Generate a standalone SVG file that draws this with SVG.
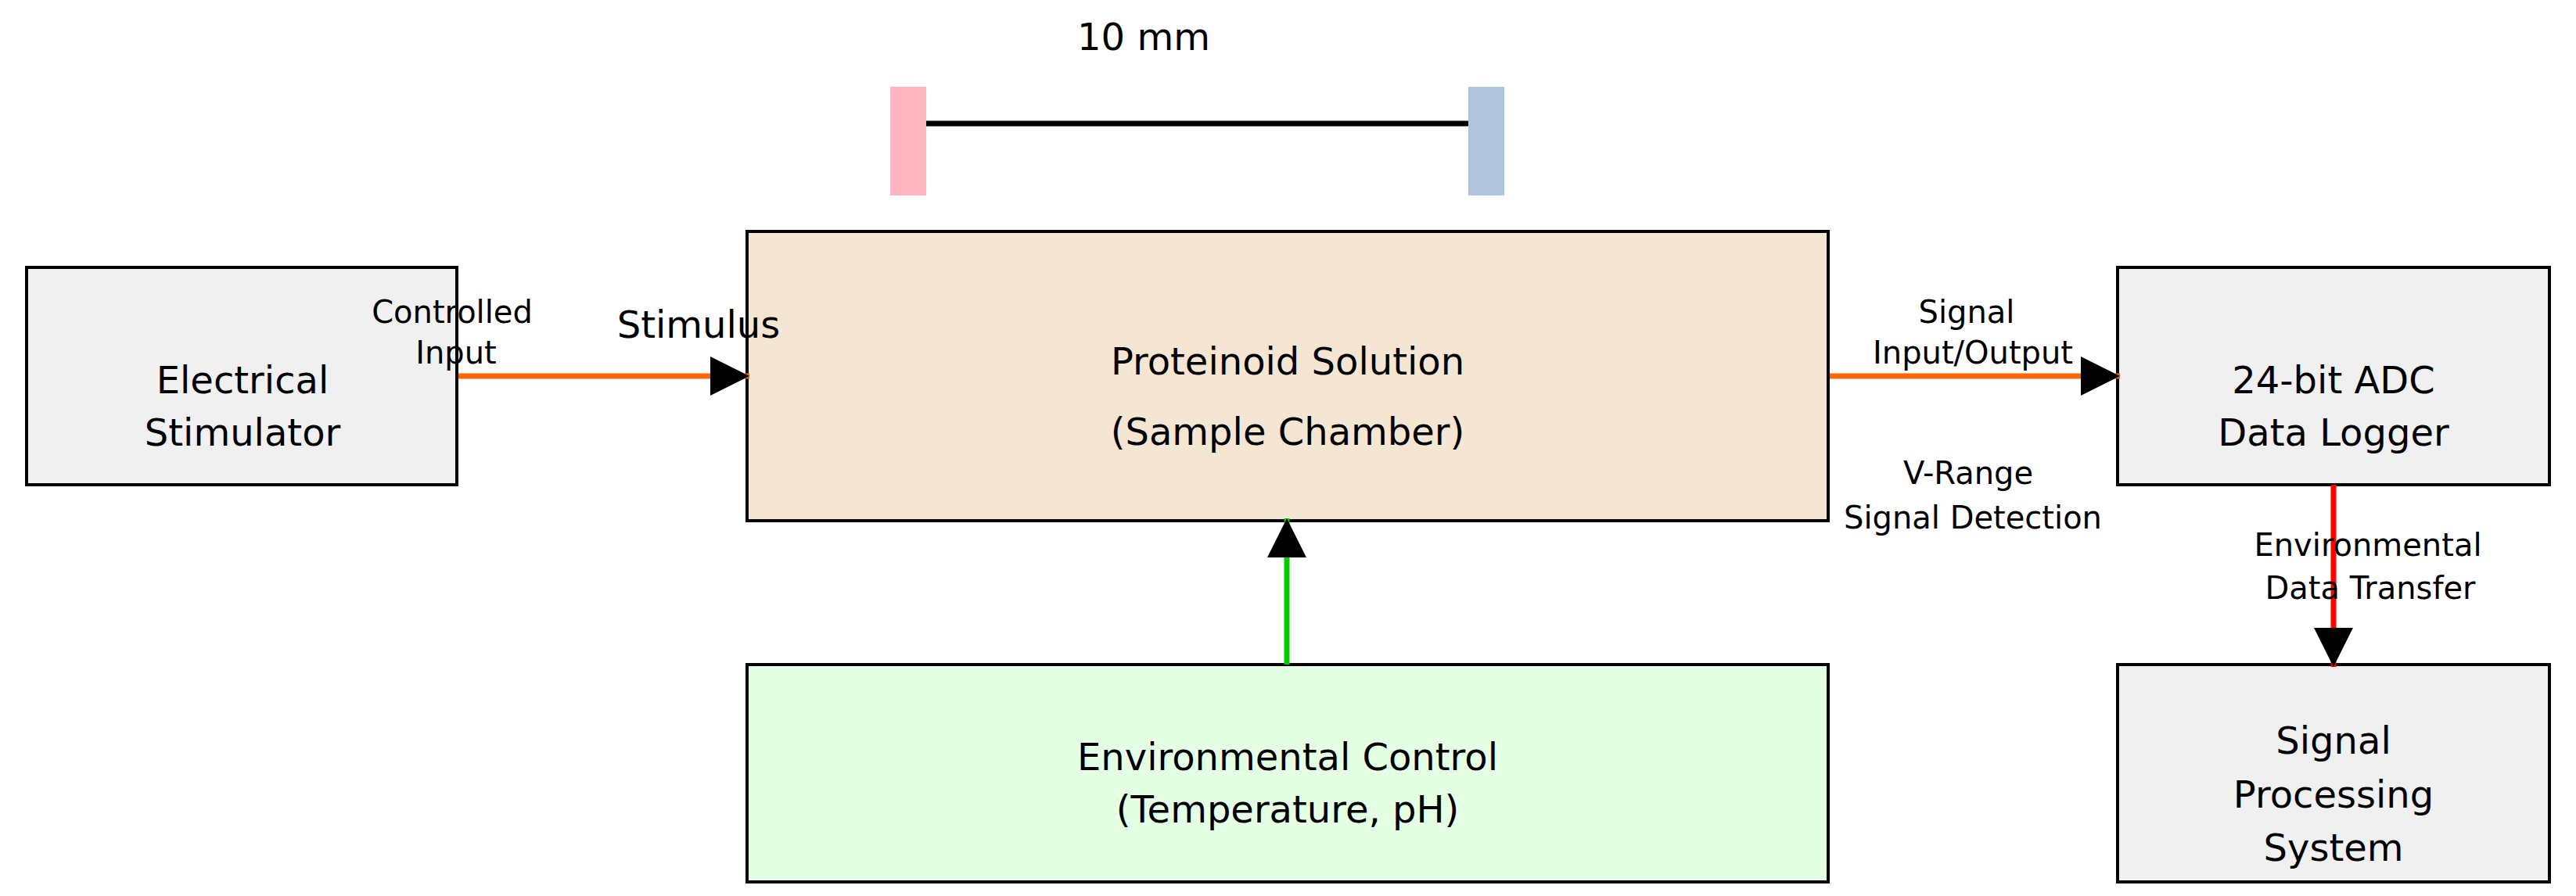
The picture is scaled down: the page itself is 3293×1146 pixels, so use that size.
<svg xmlns="http://www.w3.org/2000/svg" width="3293" height="1146" viewBox="0 0 3293 1146">
<style>
.box{stroke:#000;stroke-width:4}
.t{font-family:"DejaVu Sans",sans-serif;font-size:48px;text-anchor:middle;fill:#000}
.s{font-family:"DejaVu Sans",sans-serif;font-size:40px;text-anchor:middle;fill:#000}
.c{fill:none;stroke-width:7}
</style>
<defs>
<marker id="ah" viewBox="0 0 10 10" refX="10" refY="5" markerWidth="52" markerHeight="50" markerUnits="userSpaceOnUse" orient="auto"><path d="M0,0L10,5L0,10z" fill="#000"/></marker>
</defs>
<rect width="3293" height="1146" fill="#fff"/>
<g id="scale">
<rect x="1138" y="111" width="46" height="139" fill="#ffb6c1"/>
<rect x="1877" y="111" width="46" height="139" fill="#b0c4de"/>
<line x1="1184" y1="158" x2="1877" y2="158" stroke="#000" stroke-width="7"/>
<text class="t" x="1462" y="64">10 mm</text>
</g>
<g id="stimulator"><rect class="box" x="34" y="342" width="550" height="278" fill="#f0f0f0"/>
<text class="t" x="310" y="503">Electrical</text><text class="t" x="310" y="570">Stimulator</text></g>
<g id="chamber"><rect class="box" x="955" y="296" width="1382" height="370" fill="#f5e5d3"/>
<text class="t" x="1646" y="479">Proteinoid Solution</text><text class="t" x="1646" y="569">(Sample Chamber)</text></g>
<g id="adc"><rect class="box" x="2707" y="342" width="552" height="278" fill="#f0f0f0"/>
<text class="t" x="2983" y="503">24-bit ADC</text><text class="t" x="2983" y="570">Data Logger</text></g>
<g id="env"><rect class="box" x="955" y="850" width="1382" height="278" fill="#e5ffe5"/>
<text class="t" x="1646" y="985">Environmental Control</text><text class="t" x="1646" y="1052">(Temperature, pH)</text></g>
<g id="proc"><rect class="box" x="2707" y="850" width="552" height="278" fill="#f0f0f0"/>
<text class="t" x="2983" y="964">Signal</text><text class="t" x="2983" y="1033">Processing</text><text class="t" x="2983" y="1101">System</text></g>
<g id="connectors">
<line class="c" x1="586" y1="481" x2="958" y2="481" stroke="#ff6600" marker-end="url(#ah)"/>
<line class="c" x1="2339" y1="481" x2="2710" y2="481" stroke="#ff6600" marker-end="url(#ah)"/>
<line class="c" x1="1645" y1="850" x2="1645" y2="663" stroke="#00cc00" marker-end="url(#ah)"/>
<line class="c" x1="2983" y1="620" x2="2983" y2="853" stroke="#ff0000" marker-end="url(#ah)"/>
<text class="s" x="578" y="413">Controlled</text><text class="s" x="583" y="465">Input</text>
<text class="t" x="893" y="432">Stimulus</text>
<text class="s" x="2514" y="413">Signal</text><text class="s" x="2522" y="465">Input/Output</text>
<text class="s" x="2516" y="619">V-Range</text><text class="s" x="2522" y="676">Signal Detection</text>
<text class="s" x="3027" y="711">Environmental</text><text class="s" x="3030" y="766">Data Transfer</text>
</g>
</svg>
